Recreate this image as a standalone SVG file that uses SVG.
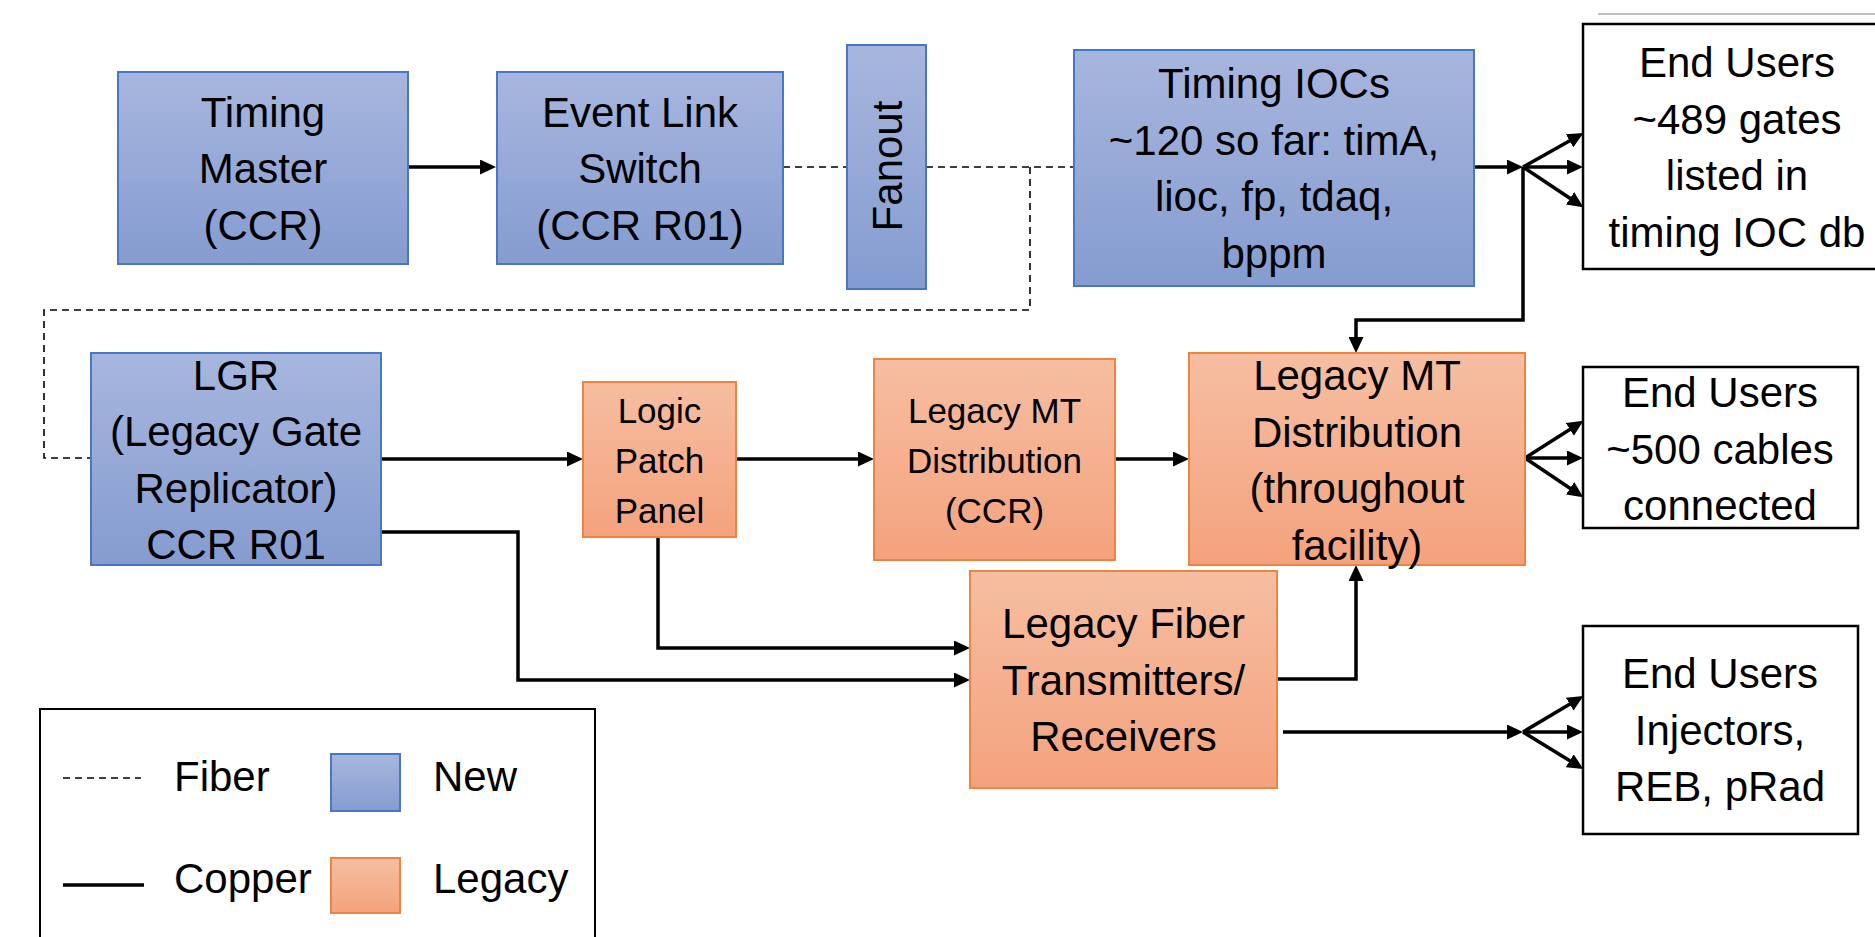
<svg xmlns="http://www.w3.org/2000/svg" width="1875" height="937" viewBox="0 0 1875 937">
  <defs>
    <linearGradient id="gNew" x1="0" y1="0" x2="0" y2="1">
      <stop offset="0" stop-color="#A7B6DE"/>
      <stop offset="1" stop-color="#859CD0"/>
    </linearGradient>
    <linearGradient id="gLegacy" x1="0" y1="0" x2="0" y2="1">
      <stop offset="0" stop-color="#F6BEA1"/>
      <stop offset="1" stop-color="#F4A27D"/>
    </linearGradient>
    <marker id="arrow" viewBox="0 0 16 15" refX="12" refY="7.5" markerWidth="16" markerHeight="15" markerUnits="userSpaceOnUse" orient="auto">
      <path d="M0,0 L16,7.5 L0,15 z" fill="#000"/>
    </marker>
  </defs>
  <style>
    .new { fill: url(#gNew); stroke: #4A76C6; stroke-width: 2; }
    .legacy { fill: url(#gLegacy); stroke: #F0843E; stroke-width: 2; }
    .user { fill: #fff; stroke: #000; stroke-width: 2.5; }
    .legend { fill: #fff; stroke: #000; stroke-width: 2; }
    text { font-family: "Liberation Sans", Arial, sans-serif; fill: #000; }
    .big { font-size: 42px; text-anchor: middle; }
    .small { font-size: 35px; text-anchor: middle; }
    .lbl { font-size: 42px; }
    .copper { fill: none; stroke: #000; stroke-width: 3.5; }
    .fiber { fill: none; stroke: #000; stroke-width: 1.6; stroke-dasharray: 7 5; }
    .arr { marker-end: url(#arrow); }
  </style>

  <rect width="1875" height="937" fill="#fff"/>
  <line x1="1598" y1="14" x2="1875" y2="14" stroke="#AAAAAA" stroke-width="1.5"/>

  <!-- connectors -->
  <g id="connectors">
    <!-- fiber links -->
    <path class="fiber" d="M783,167 H847"/>
    <path class="fiber" d="M926,167 H1074"/>
    <path class="fiber" d="M1030,167 V310 H44 V458 H91"/>
    <!-- copper links -->
    <path class="copper arr" d="M408,167 H492"/>
    <path class="copper arr" d="M1474,167 H1519"/>
    <path class="copper arr" d="M1523,167 L1580,135"/>
    <path class="copper arr" d="M1523,167 H1579"/>
    <path class="copper arr" d="M1523,167 L1580,205"/>
    <path class="copper arr" d="M1523,167 V320 H1356 V349"/>
    <path class="copper arr" d="M381,459 H579"/>
    <path class="copper arr" d="M736,459 H870"/>
    <path class="copper arr" d="M1115,459 H1185"/>
    <path class="copper arr" d="M1525,458 L1580,423"/>
    <path class="copper arr" d="M1525,458 H1579"/>
    <path class="copper arr" d="M1525,458 L1580,495"/>
    <path class="copper arr" d="M381,532 H518 V680 H966"/>
    <path class="copper arr" d="M658,537 V648 H966"/>
    <path class="copper arr" d="M1277,679 H1356 V569"/>
    <path class="copper arr" d="M1283,732 H1519"/>
    <path class="copper arr" d="M1523,732 L1580,698"/>
    <path class="copper arr" d="M1523,732 H1579"/>
    <path class="copper arr" d="M1523,732 L1580,767"/>
  </g>

  <g id="timing-master">
    <rect class="new" x="118" y="72" width="290" height="192"/>
    <text class="big" x="263"><tspan x="263" y="126.5">Timing</tspan><tspan x="263" y="183">Master</tspan><tspan x="263" y="239.5">(CCR)</tspan></text>
  </g>

  <g id="event-link-switch">
    <rect class="new" x="497" y="72" width="286" height="192"/>
    <text class="big" x="640"><tspan x="640" y="126.5">Event Link</tspan><tspan x="640" y="183">Switch</tspan><tspan x="640" y="239.5">(CCR R01)</tspan></text>
  </g>

  <g id="fanout">
    <rect class="new" x="847" y="45" width="79" height="244"/>
    <text class="big" transform="translate(902,166) rotate(-90)" x="0" y="0">Fanout</text>
  </g>

  <g id="timing-iocs">
    <rect class="new" x="1074" y="50" width="400" height="236"/>
    <text class="big" x="1274"><tspan x="1274" y="98">Timing IOCs</tspan><tspan x="1274" y="154.5">~120 so far: timA,</tspan><tspan x="1274" y="211">lioc, fp, tdaq,</tspan><tspan x="1274" y="267.5">bppm</tspan></text>
  </g>

  <g id="end-users-gates">
    <rect class="user" x="1583" y="24" width="310" height="245"/>
    <text class="big" x="1737"><tspan x="1737" y="77">End Users</tspan><tspan x="1737" y="133.5">~489 gates</tspan><tspan x="1737" y="190">listed in</tspan><tspan x="1737" y="246.5">timing IOC db</tspan></text>
  </g>

  <g id="lgr">
    <rect class="new" x="91" y="353" width="290" height="212"/>
    <text class="big" x="236"><tspan x="236" y="389.5">LGR</tspan><tspan x="236" y="446">(Legacy Gate</tspan><tspan x="236" y="502.5">Replicator)</tspan><tspan x="236" y="559">CCR R01</tspan></text>
  </g>

  <g id="logic-patch-panel">
    <rect class="legacy" x="583" y="382" width="153" height="155"/>
    <text class="small" x="659.5"><tspan x="659.5" y="423">Logic</tspan><tspan x="659.5" y="473">Patch</tspan><tspan x="659.5" y="523">Panel</tspan></text>
  </g>

  <g id="legacy-mt-ccr">
    <rect class="legacy" x="874" y="359" width="241" height="201"/>
    <text class="small" x="994.5"><tspan x="994.5" y="423">Legacy MT</tspan><tspan x="994.5" y="473">Distribution</tspan><tspan x="994.5" y="523">(CCR)</tspan></text>
  </g>

  <g id="legacy-mt-facility">
    <rect class="legacy" x="1189" y="353" width="336" height="212"/>
    <text class="big" x="1357"><tspan x="1357" y="390">Legacy MT</tspan><tspan x="1357" y="446.5">Distribution</tspan><tspan x="1357" y="503">(throughout</tspan><tspan x="1357" y="559.5">facility)</tspan></text>
  </g>

  <g id="end-users-cables">
    <rect class="user" x="1583" y="367" width="275" height="161"/>
    <text class="big" x="1720"><tspan x="1720" y="407">End Users</tspan><tspan x="1720" y="463.5">~500 cables</tspan><tspan x="1720" y="520">connected</tspan></text>
  </g>

  <g id="legacy-fiber">
    <rect class="legacy" x="970" y="571" width="307" height="217"/>
    <text class="big" x="1123.5"><tspan x="1123.5" y="638">Legacy Fiber</tspan><tspan x="1123.5" y="694.5">Transmitters/</tspan><tspan x="1123.5" y="751">Receivers</tspan></text>
  </g>

  <g id="end-users-injectors">
    <rect class="user" x="1583" y="626" width="275" height="208"/>
    <text class="big" x="1720"><tspan x="1720" y="688">End Users</tspan><tspan x="1720" y="744.5">Injectors,</tspan><tspan x="1720" y="801">REB, pRad</tspan></text>
  </g>

  <g id="legend">
    <rect class="legend" x="40" y="709" width="555" height="240"/>
    <line class="fiber" x1="63" y1="778" x2="141" y2="778" stroke-dasharray="6 5"/>
    <text class="lbl" x="174" y="791">Fiber</text>
    <rect class="new" x="331" y="754" width="69" height="57"/>
    <text class="lbl" x="433" y="791">New</text>
    <line class="copper" x1="63" y1="885" x2="144" y2="885"/>
    <text class="lbl" x="174" y="893">Copper</text>
    <rect class="legacy" x="331" y="858" width="69" height="55"/>
    <text class="lbl" x="433" y="893">Legacy</text>
  </g>
</svg>
